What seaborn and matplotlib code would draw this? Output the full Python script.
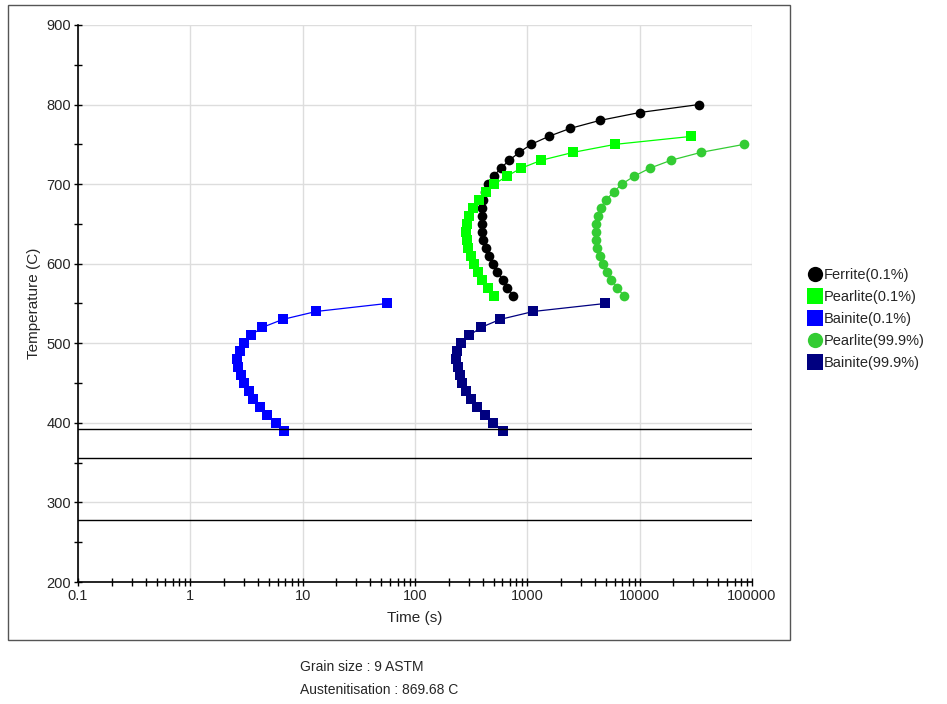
import numpy as np
import pandas as pd
import matplotlib
matplotlib.use('Agg')
import matplotlib.pyplot as plt
from matplotlib.lines import Line2D
from matplotlib.patches import Rectangle
from matplotlib.ticker import LogLocator, MultipleLocator, FuncFormatter, NullFormatter
import seaborn as sns

# Ferrite (0.1%)
ferrite_T = [800, 790, 780, 770, 760, 750, 740, 730, 720, 710, 700, 690, 680,
             670, 660, 650, 640, 630, 620, 610, 600, 590, 580, 570, 560]
ferrite_t = [33500, 10000, 4400, 2400, 1550, 1080, 850, 690, 580, 500, 445, 420, 405,
             398, 394, 394, 396, 406, 428, 458, 498, 542, 602, 665, 745]

# Pearlite (0.1%)
pearlite1_T = [760, 750, 740, 730, 720, 710, 700, 690, 680, 670, 660,
               650, 640, 630, 620, 610, 600, 590, 580, 570, 560]
pearlite1_t = [28800, 6050, 2570, 1330, 880, 656, 510, 428, 375, 331, 305,
               289, 285, 289, 299, 314, 336, 362, 398, 445, 509]

# Bainite (0.1%)
bainite1_T = [550, 540, 530, 520, 510, 500, 490, 480, 470, 460, 450,
              440, 430, 420, 410, 400, 390]
bainite1_t = [56.1, 13.2, 6.65, 4.38, 3.45, 3.01, 2.77, 2.62, 2.68, 2.80, 3.01,
              3.35, 3.63, 4.18, 4.79, 5.80, 6.87]

# Pearlite (99.9%)
pearlite9_T = [750, 740, 730, 720, 710, 700, 690, 680, 670, 660,
               650, 640, 630, 620, 610, 600, 590, 580, 570, 560]
pearlite9_t = [85000, 35300, 19000, 12300, 8930, 6930, 5850, 5000, 4500, 4250,
               4100, 4050, 4080, 4200, 4400, 4700, 5100, 5600, 6300, 7180]

# Bainite (99.9%)
bainite9_T = [550, 540, 530, 520, 510, 500, 490, 480, 470, 460, 450,
              440, 430, 420, 410, 400, 390]
bainite9_t = [4930, 1133, 573, 388, 305, 256, 235, 232, 239, 249, 261,
              285, 314, 359, 421, 499, 605]

# martensite lines
ms_lines = [392, 356, 278]

labels = ['Ferrite(0.1%)', 'Pearlite(0.1%)', 'Bainite(0.1%)', 'Pearlite(99.9%)', 'Bainite(99.9%)']
colors = ['#000000', '#00FF00', '#0000FF', '#33CC33', '#000080']
markers = ['o', 's', 's', 'o', 's']
series = [(ferrite_t, ferrite_T), (pearlite1_t, pearlite1_T), (bainite1_t, bainite1_T),
          (pearlite9_t, pearlite9_T), (bainite9_t, bainite9_T)]

sns.set_style('white')
plt.rcParams['font.family'] = ['Liberation Sans', 'DejaVu Sans']

fig = plt.figure(figsize=(9.47, 7.04), dpi=100)
ax = fig.add_axes([78 / 947, 1 - 582 / 704, (752 - 78) / 947, (582 - 25) / 704])

for (t, T), lab, c, m in zip(series, labels, colors, markers):
    df = pd.DataFrame({'time': t, 'temp': T})
    sns.lineplot(data=df, x='time', y='temp', ax=ax, sort=False, estimator=None,
                 color=c, marker=m, markersize=7, markeredgewidth=0,
                 linewidth=0.9, legend=False)

for y in ms_lines:
    ax.axhline(y, color='black', lw=1)

ax.set_xscale('log')
ax.set_xlim(0.1, 100000)
ax.set_ylim(200, 900)
ax.xaxis.set_major_locator(LogLocator(base=10, numticks=10))
ax.xaxis.set_minor_locator(LogLocator(base=10, subs=np.arange(2, 10), numticks=20))
ax.xaxis.set_major_formatter(FuncFormatter(lambda v, p: f'{v:g}' if v < 1 else f'{v:.0f}'))
ax.xaxis.set_minor_formatter(NullFormatter())
ax.yaxis.set_major_locator(MultipleLocator(100))
ax.yaxis.set_minor_locator(MultipleLocator(50))

ax.grid(True, which='major', color='#DDDDDD', lw=1)
ax.set_axisbelow(True)
for s in ['top', 'right']:
    ax.spines[s].set_visible(False)
for s in ['left', 'bottom']:
    ax.spines[s].set_color('black')
    ax.spines[s].set_linewidth(1.2)
ax.tick_params(which='both', direction='inout', color='black', labelsize=10.5,
               bottom=True, left=True, top=False, right=False)
ax.tick_params(which='major', length=6, width=1)
ax.tick_params(which='minor', length=6, width=1)
ax.tick_params(axis='both', pad=2)

ax.set_xlabel('Time (s)', fontsize=11, labelpad=6)
ax.set_ylabel('Temperature (C)', fontsize=11, labelpad=4)

# outer panel border
fig.patches.append(Rectangle((8 / 947, 1 - 640 / 704), (790 - 8) / 947, (640 - 5) / 704,
                             transform=fig.transFigure, fill=False,
                             edgecolor='#555555', lw=1))

handles = [Line2D([], [], ls='none', marker=m, color=c, markersize=11, markeredgewidth=0)
           for c, m in zip(colors, markers)]
fig.legend(handles, labels, loc='upper left', bbox_to_anchor=(800 / 947, 1 - 262 / 704),
           frameon=False, fontsize=10.5, handletextpad=0.05, handlelength=1.2,
           labelspacing=0.55, borderaxespad=0)

fig.text(300 / 947, 1 - 667 / 704, 'Grain size : 9 ASTM', fontsize=10, va='center')
fig.text(300 / 947, 1 - 690 / 704, 'Austenitisation : 869.68 C', fontsize=10, va='center')

fig.savefig('out.png', dpi=100)
